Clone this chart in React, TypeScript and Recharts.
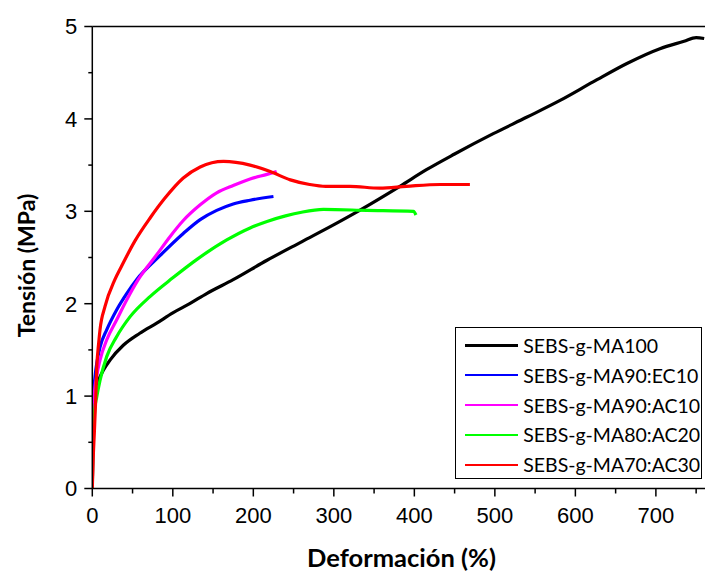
import { LineChart, Line, XAxis, YAxis, ReferenceLine, Customized } from "recharts";

// stress-strain curves: [deformación %, tensión MPa]
const ma100: [number, number][] = [
  [0, 0], [0.5, 0.4], [1.5, 0.8], [3, 1.05], [5.5, 1.14], [9.6, 1.21], [13.7, 1.28],
  [22, 1.39], [38.5, 1.55], [59, 1.68], [80, 1.79], [100, 1.9], [121, 2.0], [142, 2.11],
  [175, 2.26], [217, 2.47], [260, 2.67], [299, 2.85], [332, 3.01], [382, 3.27],
  [415, 3.45], [450, 3.62], [498, 3.84], [540, 4.02], [581, 4.2], [622, 4.4],
  [664, 4.6], [705, 4.76], [735, 4.84], [750, 4.88], [760, 4.87],
];
const ma90ec10: [number, number][] = [
  [0, 0], [0.3, 0.45], [1.3, 0.96], [3.4, 1.21], [6, 1.38], [9.6, 1.53], [18, 1.72],
  [30, 1.93], [42.7, 2.11], [55, 2.26], [84, 2.52], [113, 2.76], [134, 2.91],
  [154.5, 3.01], [175, 3.08], [196, 3.12], [225, 3.16],
];
const ma90ac10: [number, number][] = [
  [0, 0], [0.8, 0.5], [2, 0.96], [5.4, 1.21], [9.6, 1.39], [18, 1.61], [30, 1.82],
  [42.7, 2.04], [57, 2.26], [80, 2.53], [96, 2.72], [113, 2.9], [134, 3.07],
  [154.5, 3.2], [175, 3.28], [196, 3.35], [217, 3.4], [229, 3.43],
];
const ma80ac20: [number, number][] = [
  [0, 0], [0.5, 0.3], [1.5, 0.6], [3, 0.85], [5.5, 0.99], [9.6, 1.17], [18, 1.43],
  [30, 1.64], [47, 1.86], [72, 2.08], [100, 2.28], [130, 2.48], [167, 2.69],
  [196, 2.82], [217, 2.89], [240, 2.95], [260, 2.99], [287, 3.02], [341, 3.01],
  [399, 3.0], [402, 2.96],
];
const ma70ac30: [number, number][] = [
  [0, 0], [1, 0.3], [2.5, 0.6], [4.2, 0.96], [5.5, 1.3], [8, 1.58], [9.6, 1.72],
  [15.8, 1.97], [28, 2.26], [36, 2.4], [53, 2.68], [72, 2.93], [90, 3.14], [113, 3.36],
  [134, 3.48], [163, 3.54], [196, 3.5], [221, 3.43], [246, 3.34], [270, 3.29],
  [290, 3.27], [320, 3.27], [357, 3.25], [390, 3.27], [432, 3.29], [469, 3.29],
];

const seriesNames = [
  "SEBS-g-MA100",
  "SEBS-g-MA90:EC10",
  "SEBS-g-MA90:AC10",
  "SEBS-g-MA80:AC20",
  "SEBS-g-MA70:AC30",
];
const seriesColors = ["#000000", "#0000ff", "#ff00ff", "#00ff00", "#ff0000"];
const seriesData = [ma100, ma90ec10, ma90ac10, ma80ac20, ma70ac30];

const xTicks = [0, 50, 100, 150, 200, 250, 300, 350, 400, 450, 500, 550, 600, 650, 700, 750];
const yTicks = [0, 0.5, 1, 1.5, 2, 2.5, 3, 3.5, 4, 4.5, 5];

const TICK = 8;
const X_GAP = 10.5;
const Y_GAP = 7;
const tickFont = { fontFamily: "'Liberation Sans', Arial, sans-serif", fontSize: 22, fill: "#000" };
const titleFont = { fontFamily: "Lato, 'Open Sans', sans-serif", fontWeight: 700, fill: "#000" };

function XTick({ x, y, payload }: any) {
  const v = payload.value as number;
  const major = v % 100 === 0;
  const y0 = y - TICK - X_GAP; // axis line
  return (
    <g>
      <line x1={x} x2={x} y1={y0} y2={y0 + (major ? TICK : 5)} stroke="#000" strokeWidth={1.5} />
      {major && (
        <text x={x} y={y} dy="0.71em" textAnchor="middle" {...tickFont}>
          {v}
        </text>
      )}
    </g>
  );
}

function YTick({ x, y, payload }: any) {
  const v = payload.value as number;
  const major = Number.isInteger(v);
  const x0 = x + TICK + Y_GAP;
  return (
    <g>
      <line x1={x0 - (major ? TICK : 4)} x2={x0} y1={y} y2={y} stroke="#000" strokeWidth={1.5} />
      {major && (
        <text x={x} y={y} dy="0.355em" textAnchor="end" {...tickFont}>
          {v}
        </text>
      )}
    </g>
  );
}

const Titles = () => (
  <g>
    <text x={401.5} y={567} textAnchor="middle" fontSize={25.5} {...titleFont}>
      Deformación (%)
    </text>
    <text transform="translate(35,265.5) rotate(-90)" textAnchor="middle" fontSize={23} {...titleFont}>
      Tensión (MPa)
    </text>
  </g>
);

export default function App() {
  return (
    <div style={{ position: "relative", width: 705, height: 572, background: "#fff" }}>
      <style>{"body{margin:0}"}</style>
      <LineChart width={705} height={572} margin={{ top: 26.5, right: 0, bottom: 0, left: 0 }}>
        <XAxis
          type="number"
          dataKey="x"
          domain={[0, 761]}
          ticks={xTicks}
          interval={0}
          allowDataOverflow
          height={83.5}
          tickSize={TICK}
          tickMargin={X_GAP}
          tickLine={false}
          tick={<XTick />}
          axisLine={{ stroke: "#000", strokeWidth: 1.5 }}
        />
        <YAxis
          type="number"
          domain={[0, 5]}
          ticks={yTicks}
          interval={0}
          width={92.3}
          tickSize={TICK}
          tickMargin={Y_GAP}
          tickLine={false}
          tick={<YTick />}
          axisLine={{ stroke: "#000", strokeWidth: 1.5 }}
        />
        <ReferenceLine y={5} stroke="#000" strokeWidth={1.5} />
        {seriesData.map((s, i) => (
          <Line
            key={seriesNames[i]}
            data={s.map(([x, y]) => ({ x, y }))}
            dataKey="y"
            type="monotone"
            stroke={seriesColors[i]}
            strokeWidth={3.2}
            dot={false}
            activeDot={false}
            isAnimationActive={false}
          />
        ))}
        <Customized component={<Titles />} />
      </LineChart>
      <div
        style={{
          position: "absolute",
          left: 454.7,
          top: 326.7,
          width: 247.3,
          height: 152.3,
          boxSizing: "border-box",
          border: "1.5px solid #000",
          background: "#fff",
          paddingTop: 3,
        }}
      >
        {seriesNames.map((n, i) => (
          <div key={n} style={{ display: "flex", alignItems: "center", height: 29.8 }}>
            <div style={{ marginLeft: 9.5, width: 53, height: 2.2, background: seriesColors[i] }} />
            <span
              style={{
                marginLeft: 5,
                fontFamily: "Lato, 'Open Sans', sans-serif",
                fontSize: 19.5,
                color: "#000",
                whiteSpace: "nowrap",
              }}
            >
              {n}
            </span>
          </div>
        ))}
      </div>
    </div>
  );
}
